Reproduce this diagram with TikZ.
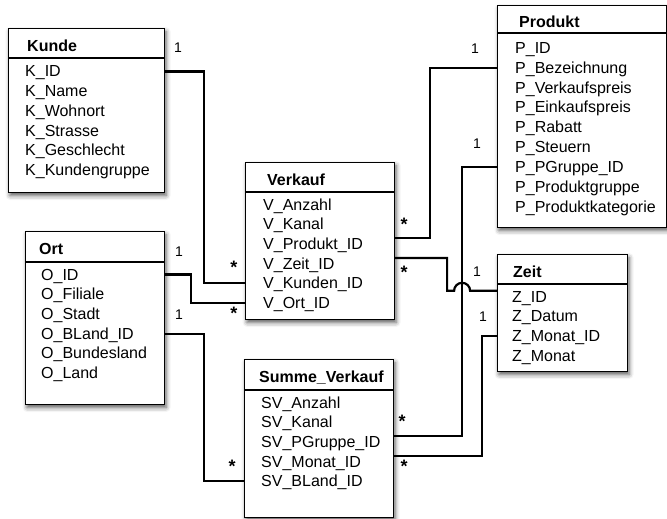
\documentclass[tikz,border=0pt]{standalone}
\usepackage{fontspec}
\setmainfont{Liberation Sans}
\usetikzlibrary{calc,shadows.blur}

\begin{document}
\begin{tikzpicture}[
  x=1pt, y=-1pt,
  table/.style={rectangle, draw=black, fill=white, line width=1.1pt, anchor=north west, inner sep=0pt,
    blur shadow={shadow xshift=1.5pt, shadow yshift=-3pt, shadow blur radius=4.5pt, shadow opacity=65}},
  title/.style={anchor=base west, inner sep=0pt, font=\fontsize{16}{18}\bfseries},
  field/.style={anchor=base west, inner sep=0pt, text height=11pt, text depth=0pt, font=\fontsize{16}{19}\selectfont},
  sep/.style={line width=1.1pt},
  rel/.style={draw=black, line width=2.2pt},
  card/.style={inner sep=0pt, font=\fontsize{14}{16}\selectfont},
  many/.style={inner sep=0pt, font=\fontsize{18}{18}\bfseries}
]
  \useasboundingbox (0,0) rectangle (667,519);

  % tables
  \node[table, minimum width=156pt, minimum height=164pt] (kunde) at (8,28) {};
  \node[title] (kunde-t) at ($(kunde.north west)+(19,23.5)$) {Kunde};
  \draw[sep] ($(kunde.north west)+(0,30)$) -- ($(kunde.north east)+(0,30)$);
  \foreach \f [count=\i] in {K\_ID, K\_Name, K\_Wohnort, K\_Strasse, K\_Geschlecht, K\_Kundengruppe}
    \node[field] (kunde-\i) at ($(kunde.north west)+(17,29.3+19.7*\i)$) {\f};

  \node[table, minimum width=139pt, minimum height=173pt] (ort) at (25,231) {};
  \node[title] (ort-t) at ($(ort.north west)+(14,23.5)$) {Ort};
  \draw[sep] ($(ort.north west)+(0,31)$) -- ($(ort.north east)+(0,31)$);
  \foreach \f [count=\i] in {O\_ID, O\_Filiale, O\_Stadt, O\_BLand\_ID, O\_Bundesland, O\_Land}
    \node[field] (ort-\i) at ($(ort.north west)+(16,29.3+19.7*\i)$) {\f};

  \node[table, minimum width=149pt, minimum height=157pt] (verkauf) at (245,162) {};
  \node[title] (verkauf-t) at ($(verkauf.north west)+(22,23.5)$) {Verkauf};
  \draw[sep] ($(verkauf.north west)+(0,30)$) -- ($(verkauf.north east)+(0,30)$);
  \foreach \f [count=\i] in {V\_Anzahl, V\_Kanal, V\_Produkt\_ID, V\_Zeit\_ID, V\_Kunden\_ID, V\_Ort\_ID}
    \node[field] (vk-\i) at ($(verkauf.north west)+(18,28.3+19.7*\i)$) {\f};

  \node[table, minimum width=149pt, minimum height=158pt] (sv) at (244,359) {};
  \node[title] (sv-t) at ($(sv.north west)+(15,23.5)$) {Summe\_Verkauf};
  \draw[sep] ($(sv.north west)+(0,31)$) -- ($(sv.north east)+(0,31)$);
  \foreach \f [count=\i] in {SV\_Anzahl, SV\_Kanal, SV\_PGruppe\_ID, SV\_Monat\_ID, SV\_BLand\_ID}
    \node[field] (sv-\i) at ($(sv.north west)+(17,29.3+19.7*\i)$) {\f};

  \node[table, minimum width=169pt, minimum height=222pt] (produkt) at (497,5) {};
  \node[title] (produkt-t) at ($(produkt.north west)+(22,22.5)$) {Produkt};
  \draw[sep] ($(produkt.north west)+(0,28)$) -- ($(produkt.north east)+(0,28)$);
  \foreach \f [count=\i] in {P\_ID, P\_Bezeichnung, P\_Verkaufspreis, P\_Einkaufspreis, P\_Rabatt,
      P\_Steuern, P\_PGruppe\_ID, P\_Produktgruppe, P\_Produktkategorie}
    \node[field] (prod-\i) at ($(produkt.north west)+(18,28.8+19.8*\i)$) {\f};

  \node[table, minimum width=130pt, minimum height=117pt] (zeit) at (497,254) {};
  \node[title] (zeit-t) at ($(zeit.north west)+(16,23.5)$) {Zeit};
  \draw[sep] ($(zeit.north west)+(0,30)$) -- ($(zeit.north east)+(0,30)$);
  \foreach \f [count=\i] in {Z\_ID, Z\_Datum, Z\_Monat\_ID, Z\_Monat}
    \node[field] (zeit-\i) at ($(zeit.north west)+(15,28.3+19.7*\i)$) {\f};

  % relations
  \coordinate (pgline) at ($(sv.east)+(68,0)$);
  \coordinate (hopl) at ($(zeit-1.north -| pgline)+(-8,0)$);

  \draw[rel] (kunde-1.center -| kunde.east) -- ++(39,0) |- (vk-5.center -| verkauf.west);
  \draw[rel] (ort-1.center -| ort.east) -- ++(26,0) |- (vk-6.center -| verkauf.west);
  \draw[rel] (ort-4.center -| ort.east) -- ++(39,0) |- (sv-5.center -| sv.west);
  \draw[rel] (vk-3.north -| verkauf.east) -- ++(35,0) |- (prod-2.center -| produkt.west);
  \draw[rel] (sv-3.north -| sv.east) -- (sv-3.north -| pgline) |- (prod-7.center -| produkt.west);
  \draw[rel] (vk-4.north -| verkauf.east) -- ++(52,0) |- (hopl)
    arc[start angle=180, end angle=360, radius=8] -- (zeit-1.north -| zeit.west);
  \draw[rel] (zeit-3.center -| zeit.west) -- ++(-15,0) |- (sv-4.north -| sv.east);

  % cardinalities
  \node[card] (c-kunde) at (178,48) {1};
  \node[many] (c-vk5) at (234,267) {*};
  \node[card] (c-ort1) at (179,252) {1};
  \node[many] (c-vk6) at (234,313) {*};
  \node[card] (c-ort4) at (179,315) {1};
  \node[many] (c-sv5) at (232,466) {*};
  \node[many] (c-vk3) at (404,224) {*};
  \node[card] (c-prod2) at (475,49) {1};
  \node[many] (c-vk4) at (404,272) {*};
  \node[card] (c-zeit1) at (477,272) {1};
  \node[card] (c-prod7) at (477,144) {1};
  \node[card] (c-zeit3) at (483,317) {1};
  \node[many] (c-sv3) at (402,421) {*};
  \node[many] (c-sv4) at (404,466) {*};
\end{tikzpicture}
\end{document}
